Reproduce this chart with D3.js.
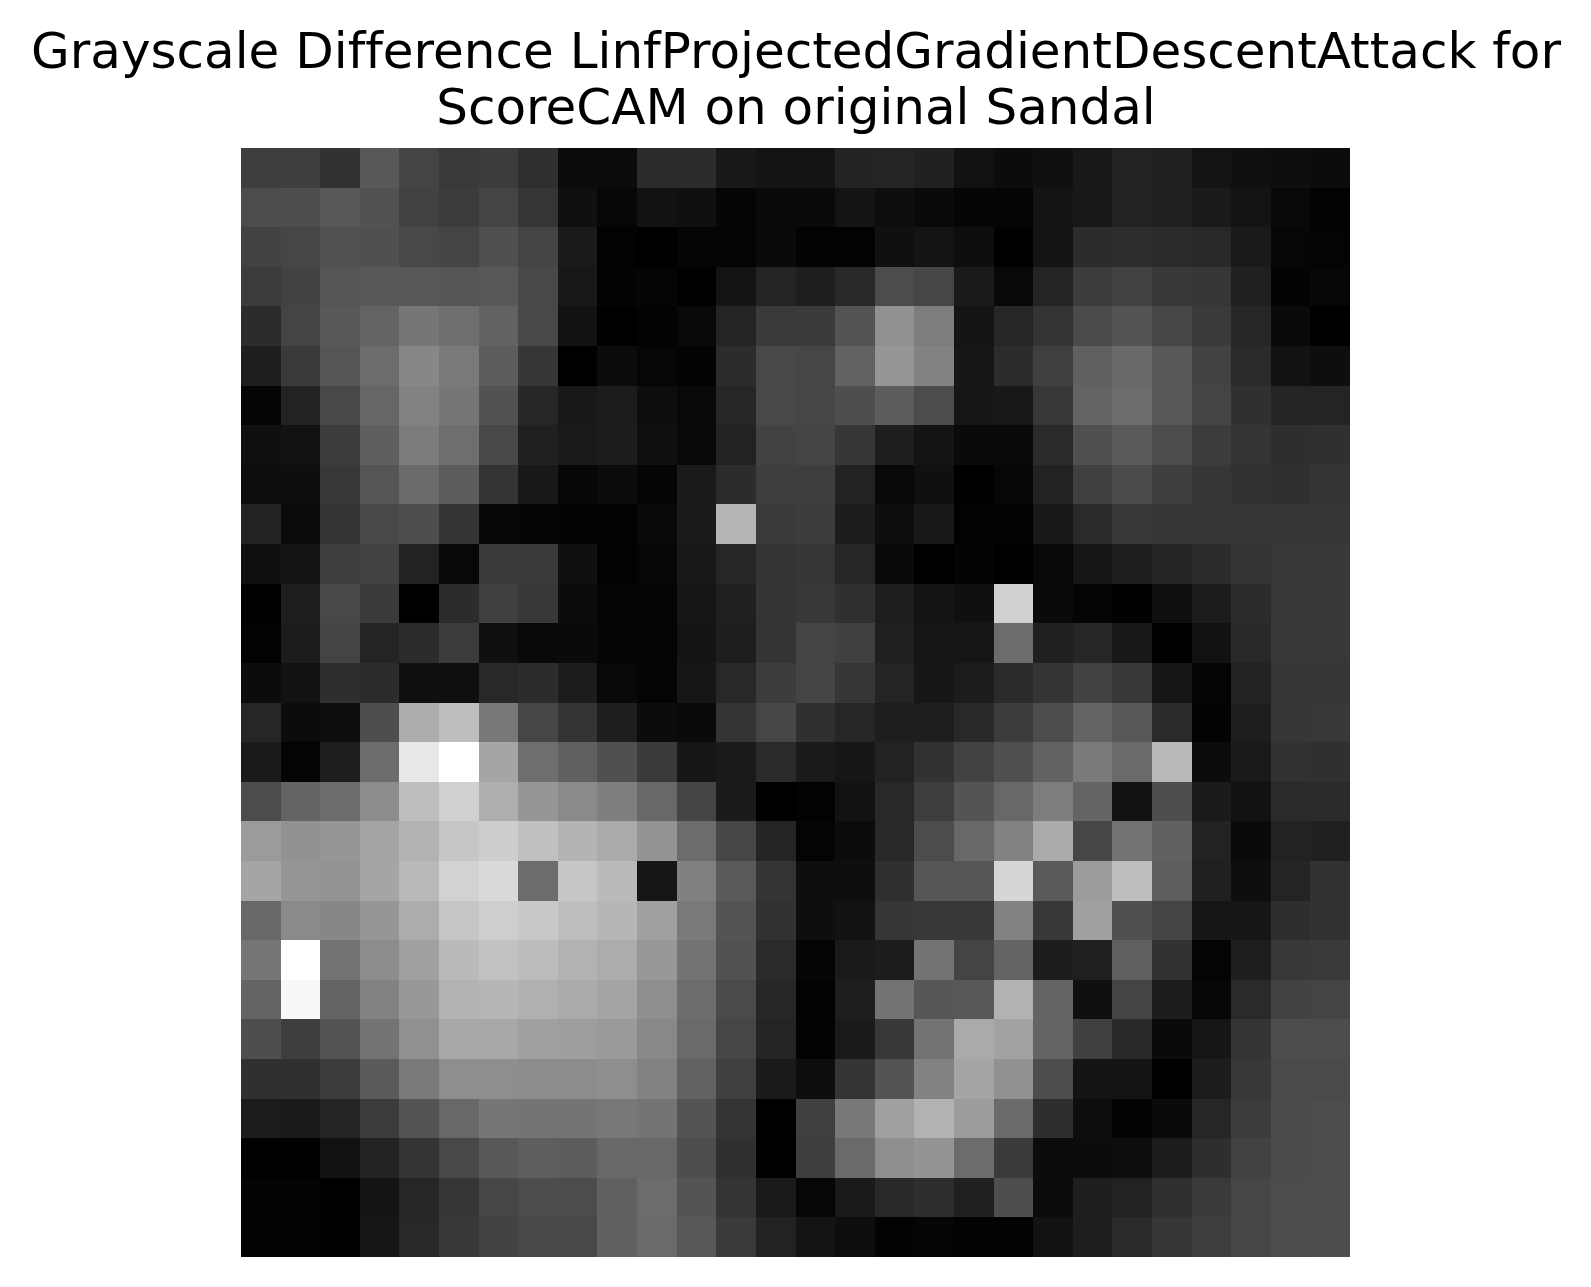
<!DOCTYPE html>
<html>
<head>
<meta charset="utf-8">
<script src="https://cdn.jsdelivr.net/npm/d3@7"></script>
<style>
html, body { margin: 0; padding: 0; background: #fff; }
svg { display: block; }
</style>
</head>
<body>
<div id="chart"></div>
<script>
const titleLines = [
    "Grayscale Difference LinfProjectedGradientDescentAttack for",
    "ScoreCAM on original Sandal"
];

// pixel values, 0-255, one list per row
const row00 = [62,62,50,88,68,57,60,47,11,11,44,44,24,20,20,35,36,33,17,12,16,24,34,32,20,16,14,12];
const row01 = [76,78,88,82,66,60,68,53,16,6,18,16,5,10,10,20,14,10,5,5,20,24,34,32,26,20,8,3];
const row02 = [66,70,82,80,72,68,80,68,26,2,0,5,4,10,3,2,16,20,14,0,20,44,46,42,40,26,6,4];
const row03 = [60,66,85,88,88,85,88,72,24,3,5,0,20,36,30,40,76,70,26,8,36,60,66,56,54,32,3,6];
const row04 = [44,68,88,100,118,110,98,72,18,0,3,8,36,58,58,84,145,125,20,38,52,74,84,70,58,38,10,0];
const row05 = [30,58,85,108,135,122,92,54,0,12,6,3,44,72,70,98,150,130,22,44,64,96,105,88,66,42,18,14];
const row06 = [5,35,72,102,130,118,82,38,24,28,14,8,38,72,70,78,92,76,22,24,56,100,108,88,68,48,36,36];
const row07 = [16,18,60,95,124,110,72,32,26,28,15,8,34,66,68,54,30,20,10,10,42,80,90,76,60,52,46,48];
const row08 = [13,14,55,85,106,92,52,24,7,12,5,26,44,62,62,34,8,16,0,6,34,64,74,62,54,50,48,52];
const row09 = [34,11,52,72,78,52,7,5,3,2,8,26,182,58,60,28,14,24,2,2,24,42,56,54,54,54,54,54];
const row10 = [16,20,62,66,34,8,58,58,16,2,6,24,38,52,54,38,10,0,3,0,8,22,30,36,44,52,56,56];
const row11 = [0,30,72,58,0,44,64,56,12,4,5,22,32,52,56,48,30,20,16,208,10,5,1,16,28,44,56,56];
const row12 = [2,28,68,36,44,60,16,8,10,5,4,20,30,52,68,64,32,22,22,108,32,38,24,0,18,40,56,56];
const row13 = [12,18,46,44,16,15,40,44,28,8,4,22,40,60,68,54,36,22,28,42,52,66,56,22,4,34,54,54];
const row14 = [38,12,14,78,172,190,120,70,52,30,12,10,52,70,48,38,30,30,40,60,76,100,88,42,3,30,54,56];
const row15 = [26,4,30,108,232,255,165,110,96,80,58,22,26,42,26,22,34,50,66,80,98,122,106,185,12,26,50,48];
const row16 = [76,100,108,140,190,208,175,150,138,126,104,68,26,0,2,18,40,62,84,104,125,100,18,78,26,18,42,42];
const row17 = [155,145,150,165,178,198,205,192,180,170,148,108,70,36,4,12,40,76,104,130,170,70,115,96,34,10,34,32];
const row18 = [165,150,148,165,185,210,218,108,198,186,22,128,90,52,14,14,48,86,86,214,90,155,190,94,32,14,36,50];
const row19 = [104,138,135,150,172,198,206,200,190,182,160,122,84,50,14,18,54,56,56,130,56,160,80,68,22,22,46,50];
const row20 = [118,255,115,140,160,186,194,188,178,172,152,116,82,42,5,26,28,115,68,100,28,32,96,50,4,30,56,58];
const row21 = [100,248,100,130,152,178,182,176,170,164,142,108,74,38,3,30,115,86,88,178,100,16,68,28,6,42,66,68];
const row22 = [78,62,84,115,144,168,168,160,158,154,136,106,70,36,3,26,56,115,170,162,100,64,40,10,22,52,76,76];
const row23 = [48,48,60,90,122,142,142,140,140,142,130,98,64,26,14,52,84,130,165,145,76,20,20,0,28,56,74,74];
const row24 = [28,26,36,60,84,104,118,116,116,120,116,84,52,0,64,120,160,178,156,106,46,14,3,10,38,60,74,76];
const row25 = [0,0,18,34,52,72,88,94,92,104,104,78,48,0,62,106,142,148,108,58,12,12,14,28,46,66,74,76];
const row26 = [3,3,0,20,38,54,70,76,76,96,108,84,52,26,6,26,40,46,32,78,12,30,34,48,58,70,76,78];
const row27 = [3,3,0,22,40,56,66,72,72,96,106,88,58,34,20,14,3,5,3,3,18,30,42,54,62,70,76,78];

const rows = [row00,row01,row02,row03,row04,row05,row06,row07,row08,row09,row10,row11,row12,row13,
    row14,row15,row16,row17,row18,row19,row20,row21,row22,row23,row24,row25,row26,row27];

const width = 1591;
const height = 1287;
const margin = {top: 148, right: 241, bottom: 30, left: 241};

const svg = d3.select("#chart")
    .append("svg")
    .attr("width", width)
    .attr("height", height)
    .attr("viewBox", `0 0 ${width} ${height}`);

const x = d3.scaleBand()
    .domain(d3.range(rows[0].length))
    .range([margin.left, width - margin.right]);

const y = d3.scaleBand()
    .domain(d3.range(rows.length))
    .range([margin.top, height - margin.bottom]);

// matplotlib "gray": straight black to white
const color = d3.scaleLinear()
    .domain([0, 255])
    .range(["#000000", "#ffffff"]);

// snap cell edges to whole pixels so no seams show between rows
const x0 = i => Math.round(x(i));
const x1 = i => Math.round(x(i) + x.bandwidth());
const y0 = i => Math.round(y(i));
const y1 = i => Math.round(y(i) + y.bandwidth());

svg.append("g")
    .attr("class", "cells")
    .attr("shape-rendering", "crispEdges")
    .selectAll("g")
    .data(rows)
    .join("g")
    .attr("transform", (d, i) => `translate(0,${y0(i)})`)
    .attr("data-h", (d, i) => y1(i) - y0(i))
    .selectAll("rect")
    .data(d => d)
    .join("rect")
    .attr("x", (d, i) => x0(i))
    .attr("width", (d, i) => x1(i) - x0(i))
    .attr("height", function() { return +this.parentNode.getAttribute("data-h"); })
    .attr("fill", d => color(d));

svg.append("g")
    .attr("class", "title")
    .selectAll("text")
    .data(titleLines)
    .join("text")
    .attr("x", 796)
    .attr("y", (d, i) => 68 + i * 56)
    .attr("text-anchor", "middle")
    .attr("font-family", "'DejaVu Sans'")
    .attr("font-size", 50)
    .style("font-variant-ligatures", "none")
    .attr("fill", "#000")
    .text(d => d);
</script>
</body>
</html>
